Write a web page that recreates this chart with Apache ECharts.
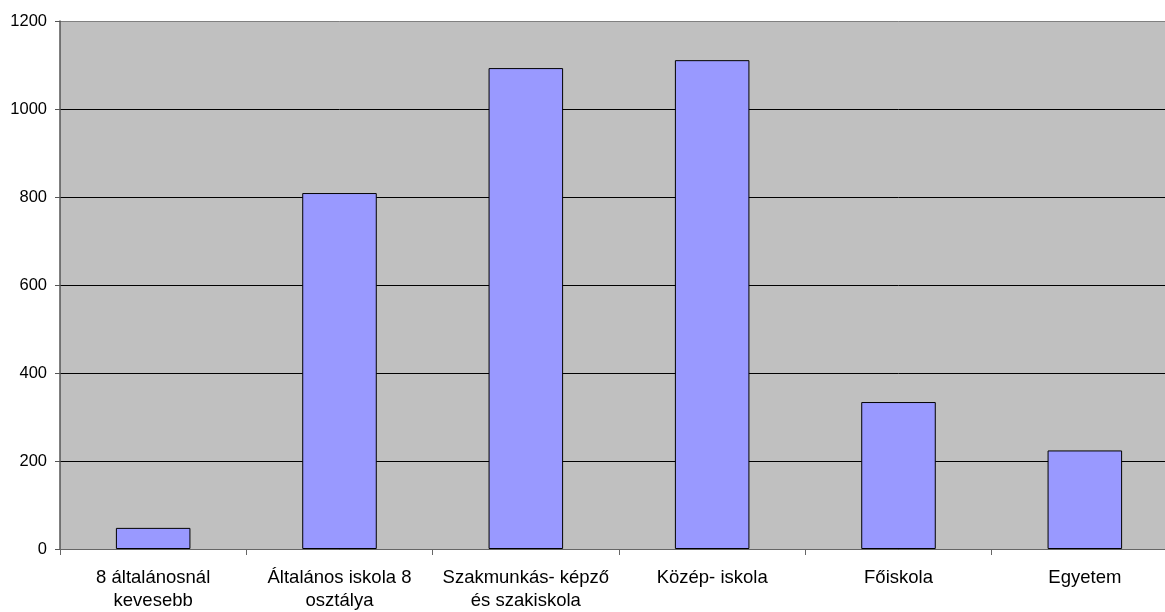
<!DOCTYPE html>
<html>
<head>
<meta charset="utf-8">
<script src="https://cdn.jsdelivr.net/npm/echarts@6/dist/echarts.min.js"></script>
<style>
  html, body { margin: 0; padding: 0; background: #fff; overflow: hidden; }
  /* a rajzterület jobbra kilóg a képből, ezért szélesebb a div */
  #chart { width: 1180px; height: 612px; }
</style>
</head>
<body>
<div id="chart"></div>
<script>
// kategóriák és értékek
var categories = [
    '8 általánosnál\nkevesebb',
    'Általános iskola 8\nosztálya',
    'Szakmunkás- képző\nés szakiskola',
    'Közép- iskola',
    'Főiskola',
    'Egyetem'
];
var values = [48, 809, 1093, 1111, 334, 224];
var yTicks = [0, 200, 400, 600, 800, 1000, 1200];

var chart = echarts.init(document.getElementById('chart'));

var option = {
    animation: false,
    textStyle: { fontFamily: 'Liberation Sans, Arial, sans-serif' },
    grid: {
        left: 60,
        top: 21,
        width: 1118,
        height: 528,
        show: true,
        backgroundColor: '#C0C0C0',
        borderWidth: 0
    },
    xAxis: {
        type: 'category',
        data: categories,
        axisLine: { lineStyle: { color: '#666', width: 1 } },
        axisTick: { show: true, length: 6, lineStyle: { color: '#666' } },
        axisLabel: {
            color: '#000',
            fontSize: 18.5,
            lineHeight: 23,
            margin: 17,
            interval: 0
        }
    },
    yAxis: {
        type: 'value',
        min: yTicks[0],
        max: yTicks[yTicks.length - 1],
        interval: 200,
        axisLine: { show: true, lineStyle: { color: '#555', width: 1.5 } },
        axisTick: { show: true, length: 5, lineStyle: { color: '#555' } },
        axisLabel: {
            color: '#000',
            fontSize: 16.5,
            margin: 13,
            formatter: function (v) { return String(v); }
        },
        splitLine: {
            lineStyle: {
                color: ['#000', '#000', '#000', '#000', '#000', '#000', '#808080'],
                width: 1
            }
        }
    },
    series: [
        {
            type: 'bar',
            data: values,
            barWidth: '40%',
            itemStyle: {
                color: '#9999FF',
                borderColor: '#000',
                borderWidth: 1
            }
        }
    ]
};
chart.setOption(option);
</script>
</body>
</html>
